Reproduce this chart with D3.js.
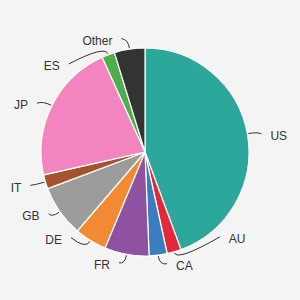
<!DOCTYPE html>
<html>
<head>
<meta charset="utf-8">
<script src="https://cdn.jsdelivr.net/npm/d3@7"></script>
<style>
  html, body { margin: 0; padding: 0; background: #f4f4f4; }
  svg { display: block; }
</style>
</head>
<body>
<svg id="chart" width="300" height="300"></svg>
<script>
// ---- data ----
const categories = ["US", "AU", "CA", "FR", "DE", "GB", "IT", "JP", "ES", "Other"];
const values = [44.4, 2.2, 2.8, 6.9, 5.0, 8.0, 2.2, 21.8, 2.0, 4.75];
const colors = ["#2ba89b", "#e3283a", "#3b7ebf", "#8e52a1", "#f28a33", "#9c9c9c", "#a5522e", "#f284c0", "#4dae4b", "#333333"];

// ---- layout ----
const cx = 145, cy = 152, r = 104;
const labelRx = 135, labelRy = 119;
// label de-overlap nudges (degrees) applied to slice mid angles
const labelNudge = {US: 2.3, AU: -26.8, CA: -9.7, FR: 8.4, DE: 11, GB: 2.7, IT: -0.6, JP: -3.3, ES: -23, Other: -12.1};

const data = categories.map((c, i) => ({cat: c, value: values[i], color: colors[i]}));

const svg = d3.select("#chart");
const g = svg.append("g").attr("transform", `translate(${cx},${cy})`);

const pie = d3.pie().sort(null).value(d => d.value);
const arc = d3.arc().innerRadius(0).outerRadius(r);
const arcs = pie(data);

g.selectAll("path.slice")
  .data(arcs)
  .enter().append("path")
  .attr("class", "slice")
  .attr("d", arc)
  .attr("fill", d => d.data.color)
  .attr("stroke", "#ffffff")
  .attr("stroke-width", 1.2);

const polar = (a, rad) => [Math.sin(a) * rad, -Math.cos(a) * rad];

const labels = g.selectAll("text.lbl")
  .data(arcs)
  .enter().append("text")
  .attr("class", "lbl")
  .attr("font-family", "'Liberation Sans', Arial, Helvetica, sans-serif")
  .attr("font-size", 12)
  .attr("fill", "#333")
  .attr("text-anchor", "middle")
  .attr("dy", "0.35em")
  .text(d => d.data.cat)
  .each(function(d) {
    const mid = (d.startAngle + d.endAngle) / 2;
    const a = mid + (labelNudge[d.data.cat] || 0) * Math.PI / 180;
    d.lx = Math.sin(a) * labelRx;
    d.ly = -Math.cos(a) * labelRy;
    d.mid = mid;
    d.w = this.getComputedTextLength();
  })
  .attr("x", d => d.lx)
  .attr("y", d => d.ly);

const gap = 9;
g.selectAll("path.leader")
  .data(arcs)
  .enter().append("path")
  .attr("class", "leader")
  .attr("fill", "none")
  .attr("stroke", "#333")
  .attr("stroke-width", 1)
  .attr("d", d => {
    const p0 = polar(d.mid, r + 1);
    const c = polar(d.mid, r + 10);
    const ex = d.lx > p0[0] ? d.lx - d.w / 2 - gap : d.lx + d.w / 2 + gap;
    const ey = d.ly - 2;
    const p = d3.path();
    p.moveTo(p0[0], p0[1]);
    p.quadraticCurveTo(c[0], c[1], ex, ey);
    return p.toString();
  });
</script>
</body>
</html>
